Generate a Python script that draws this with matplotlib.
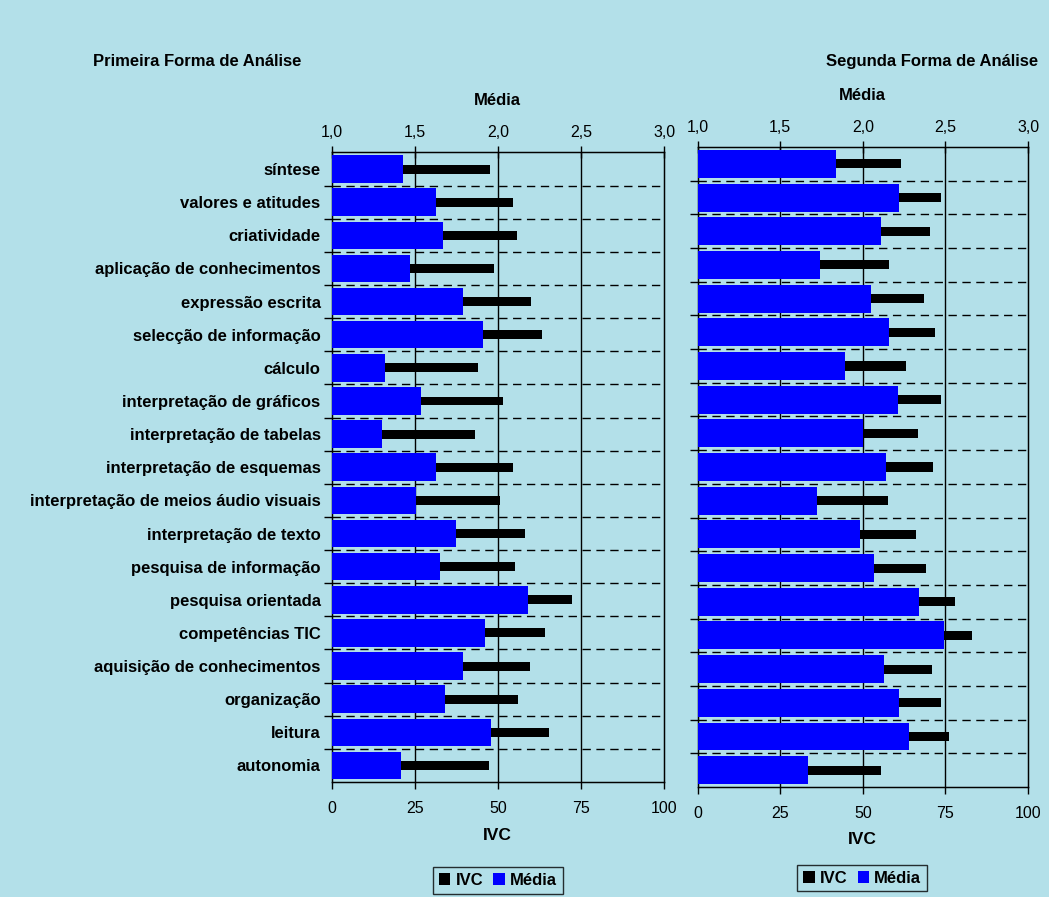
import numpy as np
import matplotlib.pyplot as plt
from matplotlib.patches import Patch

plt.rcParams['font.family'] = ['Liberation Sans', 'DejaVu Sans']

# competências avaliadas (de cima para baixo)
competencias = [
    "síntese", "valores e atitudes", "criatividade", "aplicação de conhecimentos",
    "expressão escrita", "selecção de informação", "cálculo",
    "interpretação de gráficos", "interpretação de tabelas",
    "interpretação de esquemas", "interpretação de meios áudio visuais",
    "interpretação de texto", "pesquisa de informação", "pesquisa orientada",
    "competências TIC", "aquisição de conhecimentos", "organização",
    "leitura", "autonomia",
]

# Primeira forma de análise
media_1 = [1.43, 1.63, 1.67, 1.47, 1.79, 1.91, 1.32, 1.54, 1.30,
           1.63, 1.51, 1.75, 1.65, 2.18, 1.92, 1.79, 1.68, 1.96, 1.42]
ivc_1 = [47.6, 54.5, 55.7, 48.9, 59.9, 63.4, 44.1, 51.5, 43.1,
         54.5, 50.7, 58.3, 55.2, 72.4, 64.2, 59.7, 56.1, 65.4, 47.3]

# Segunda forma de análise
media_2 = [1.84, 2.22, 2.11, 1.74, 2.05, 2.16, 1.89, 2.21, 2.00,
           2.14, 1.72, 1.98, 2.07, 2.34, 2.49, 2.13, 2.22, 2.28, 1.67]
ivc_2 = [61.5, 73.8, 70.3, 58.0, 68.6, 71.8, 63.1, 73.8, 66.7,
         71.3, 57.6, 66.0, 69.0, 78.0, 82.9, 70.9, 73.8, 76.1, 55.6]

ivc_ticks = [0, 25, 50, 75, 100]
media_ticks = [1.0, 1.5, 2.0, 2.5, 3.0]

fundo = '#b3e0e9'
azul = '#0000ff'

fig = plt.figure(figsize=(10.49, 8.97), dpi=100)
fig.patch.set_facecolor(fundo)


def painel(rect, media, ivc, mostrar_nomes):
    ax = fig.add_axes(rect)
    ax.set_facecolor('none')
    y = np.arange(len(competencias))

    # IVC (eixo de baixo) - barras pretas finas
    ax.barh(y, ivc, height=0.27, color='black', zorder=3)
    ax.set_xlim(0, 100)
    ax.set_ylim(len(competencias) - 0.5, -0.5)
    ax.set_xticks(ivc_ticks)
    ax.set_xticklabels([str(t) for t in ivc_ticks], fontsize=11.5)
    ax.tick_params(axis='x', direction='out', length=5, width=1, pad=9)

    for v in ivc_ticks[1:-1]:
        ax.axvline(v, color='black', lw=1, zorder=1)
    for b in np.arange(0.5, len(competencias) - 1, 1):
        ax.axhline(b, color='black', lw=1, ls=(0, (6, 4)), zorder=1)

    ax.set_yticks(y)
    if mostrar_nomes:
        ax.set_yticklabels(competencias, fontsize=12, fontweight='bold')
    else:
        ax.set_yticklabels([])
    ax.tick_params(axis='y', length=0, pad=8)
    ax.set_yticks(np.arange(0.5, len(competencias) - 1, 1), minor=True)
    ax.tick_params(axis='y', which='minor', direction='out', length=6, width=1)

    for s in ax.spines.values():
        s.set_color('black')
        s.set_linewidth(1)

    # Média (eixo de cima) - barras azuis largas
    ax2 = ax.twiny()
    ax2.barh(y, [m - 1.0 for m in media], left=1.0, height=0.83, color=azul, zorder=4)
    ax2.set_xlim(1.0, 3.0)
    ax2.set_ylim(len(competencias) - 0.5, -0.5)
    ax2.set_xticks(media_ticks)
    ax2.set_xticklabels([f"{t:.1f}".replace('.', ',') for t in media_ticks], fontsize=11.5)
    ax2.tick_params(axis='x', direction='inout', length=8, width=1, pad=5)
    return ax, ax2


# painel da esquerda
painel([0.3162, 0.1282, 0.3168, 0.7018], media_1, ivc_1, True)
fig.text(0.0887, 0.931, "Primeira Forma de Análise", fontsize=12, fontweight='bold',
         ha='left', va='center')
fig.text(0.474, 0.888, "Média", fontsize=12, fontweight='bold', ha='center', va='center')
fig.text(0.474, 0.069, "IVC", fontsize=12.5, fontweight='bold', ha='center', va='center')

# painel da direita
painel([0.6651, 0.1226, 0.3149, 0.7135], media_2, ivc_2, False)
fig.text(0.990, 0.931, "Segunda Forma de Análise", fontsize=12, fontweight='bold',
         ha='right', va='center')
fig.text(0.822, 0.893, "Média", fontsize=12, fontweight='bold', ha='center', va='center')
fig.text(0.822, 0.064, "IVC", fontsize=12.5, fontweight='bold', ha='center', va='center')

handles = [Patch(facecolor='black', label='IVC'), Patch(facecolor=azul, label='Média')]
for cx, cy in [(0.4745, 0.0185), (0.822, 0.021)]:
    leg = fig.legend(handles=handles, loc='center', bbox_to_anchor=(cx, cy), ncol=2,
                     frameon=True, fancybox=False, handlelength=0.7, handleheight=0.7,
                     handletextpad=0.3, columnspacing=0.6, borderpad=0.35,
                     prop={'weight': 'bold', 'size': 12})
    leg.get_frame().set_edgecolor('black')
    leg.get_frame().set_facecolor('none')
    leg.get_frame().set_linewidth(1)

fig.savefig('out.png', dpi=100, facecolor=fig.get_facecolor())
